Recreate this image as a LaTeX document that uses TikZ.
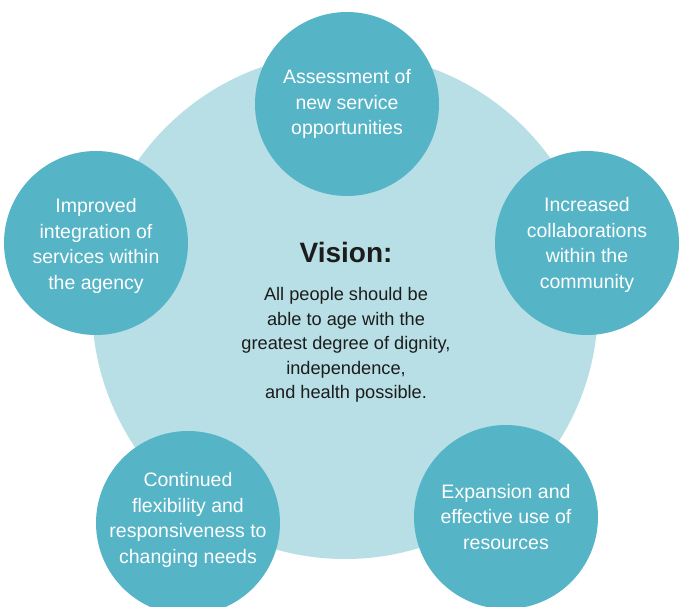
\documentclass[tikz,border=0pt]{standalone}
\usepackage{fontspec}
\setmainfont{Liberation Sans}

\definecolor{disclight}{HTML}{B8DFE5}
\definecolor{bubbleblue}{HTML}{56B4C7}
\definecolor{inkdark}{HTML}{1C1C1C}

\tikzset{
    bigdisc/.style={circle, fill=disclight, minimum size=506pt, inner sep=0pt},
    bubble/.style={circle, fill=bubbleblue, minimum size=184pt, inner sep=0pt},
    bubbletext/.style={white, align=center, font=\fontsize{19.5}{25.5}\selectfont},
    visiontitle/.style={inkdark, font=\fontsize{28}{32}\bfseries\selectfont},
    visionbody/.style={inkdark, align=center, font=\fontsize{18.2}{24.6}\selectfont}
}

\begin{document}
\begin{tikzpicture}[x=1pt,y=-1pt]

    \useasboundingbox (0,0) rectangle (680,607);
    \clip (0,0) rectangle (680,607);

    % Disque central
    \node[bigdisc] (disc) at (345,306) {};

    % Les cinq bulles
    \foreach \n/\bx/\by in {1/347/104, 2/587/243, 3/96/243, 4/188/523, 5/506/517}{
        \node[bubble] (b\n) at (\bx,\by) {};
    }

    % Textes des bulles
    \node[bubbletext] (t1) at (347,104) {Assessment of\\new service\\opportunities};
    \node[bubbletext] (t2) at (587,245) {Increased\\collaborations\\within the\\community};
    \node[bubbletext] (t3) at (96,246) {Improved\\integration of\\services within\\the agency};
    \node[bubbletext] (t4) at (188,520) {Continued\\flexibility and\\responsiveness to\\changing needs};
    \node[bubbletext] (t5) at (506,517) {Expansion and\\effective use of\\resources};

    % Texte de la vision
    \node[visiontitle] (title) at (346,252) {Vision:};
    \node[visionbody] (body) at (346,345) {All people should be\\able to age with the\\greatest degree of dignity,\\independence,\\and health possible.};

\end{tikzpicture}
\end{document}
